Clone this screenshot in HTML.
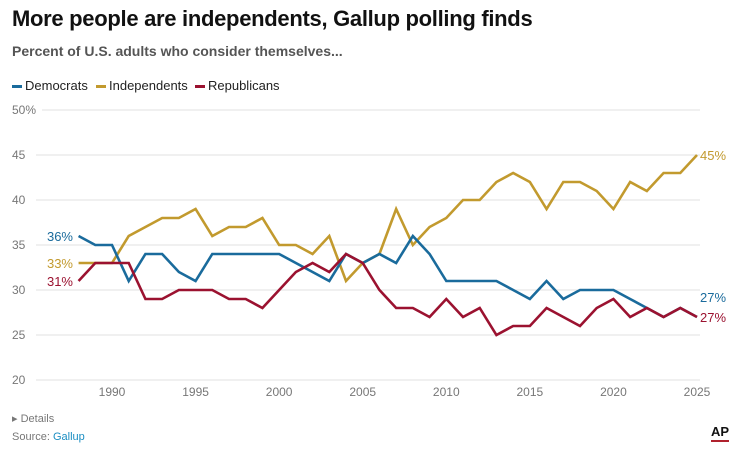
<!DOCTYPE html>
<html><head><meta charset="utf-8"><style>
body{margin:0;width:740px;height:453px;background:#fff;font-family:"Liberation Sans",sans-serif;overflow:hidden;position:relative}
.t{position:absolute;left:12px;top:6px;font-size:22px;font-weight:bold;color:#111;letter-spacing:-0.3px}
.s{position:absolute;left:12px;top:43px;font-size:14px;font-weight:bold;color:#555}
.lg{position:absolute;top:78px;font-size:13px;color:#222}
.lg span.m{display:inline-block;width:10px;height:3px;vertical-align:middle;margin-right:3px}
.f{position:absolute;left:12px;font-size:11px;color:#777}
</style></head><body>
<div class="t">More people are independents, Gallup polling finds</div>
<div class="s">Percent of U.S. adults who consider themselves...</div>
<div class="lg" style="left:12px"><span class="m" style="background:#1a6b9c"></span>Democrats</div>
<div class="lg" style="left:96px"><span class="m" style="background:#c29a2e"></span>Independents</div>
<div class="lg" style="left:195px"><span class="m" style="background:#9b1230"></span>Republicans</div>
<svg id="c" width="740" height="453" style="position:absolute;left:0;top:0"></svg>
<div class="f" style="top:412px">▸ Details</div>
<div class="f" style="top:431px">Source: <span style="color:#1b8ec2">Gallup</span></div>
<div style="position:absolute;left:711px;top:424px;font-size:13px;font-weight:bold;color:#111">AP<div style="height:2px;background:#b0222e;margin-top:1px"></div></div>
<script>
const years=[];for(let y=1988;y<=2025;y++)years.push(y);
const dem=[36,35,35,31,34,34,32,31,34,34,34,34,34,33,32,31,34,33,34,33,36,34,31,31,31,31,30,29,31,29,30,30,30,29,28,27,28,27];
const ind=[33,33,33,36,37,38,38,39,36,37,37,38,35,35,34,36,31,33,34,39,35,37,38,40,40,42,43,42,39,42,42,41,39,42,41,43,43,45];
const rep=[31,33,33,33,29,29,30,30,30,29,29,28,30,32,33,32,34,33,30,28,28,27,29,27,28,25,26,26,28,27,26,28,29,27,28,27,28,27];
const yTicks=[20,25,30,35,40,45,50];
const xTicks=[1990,1995,2000,2005,2010,2015,2020,2025];
const sx=y=>112+(y-1990)*(697-112)/35;
const sy=v=>380-(v-20)*9;
const svg=document.getElementById('c');const NS='http://www.w3.org/2000/svg';
function mk(t,a){const e=document.createElementNS(NS,t);for(const k in a)e.setAttribute(k,a[k]);svg.appendChild(e);return e;}
yTicks.forEach(v=>{
const l=mk('line',{x1:v===50?42:36,x2:700,y1:sy(v),y2:sy(v),stroke:'#e2e2e2','stroke-width':1});


const t=mk('text',{x:12,y:sy(v)+4,'font-size':12,fill:'#777'});t.textContent=v===50?'50%':v;


});
xTicks.forEach(y=>{const t=mk('text',{x:sx(y),y:396,'font-size':12,fill:'#777','text-anchor':'middle'});t.textContent=y;

});
function line(d,c,n){const p=mk('polyline',{points:d.map((v,i)=>sx(years[i])+','+sy(v)).join(' '),fill:'none',stroke:c,'stroke-width':2.6,'stroke-linejoin':'miter'});

}
line(ind,'#c29a2e','independents-line');line(dem,'#1a6b9c','democrats-line');line(rep,'#9b1230','republicans-line');
function lab(x,y,txt,c,anchor,n){const t=mk('text',{x:x,y:y,'font-size':13,fill:c,'text-anchor':anchor});t.textContent=txt;

}
lab(73,sy(dem[0])+5,dem[0]+'%','#1a6b9c','end','dem-start-label');
lab(73,sy(ind[0])+5,ind[0]+'%','#c29a2e','end','ind-start-label');
lab(73,sy(rep[0])+5,rep[0]+'%','#9b1230','end','rep-start-label');
const L=years.length-1;
lab(700,sy(ind[L])+5,ind[L]+'%','#c29a2e','start','ind-end-label');
lab(700,sy(dem[L])-20+5,dem[L]+'%','#1a6b9c','start','dem-end-label');
lab(700,sy(rep[L])+5,rep[L]+'%','#9b1230','start','rep-end-label');
</script>
</body></html>
